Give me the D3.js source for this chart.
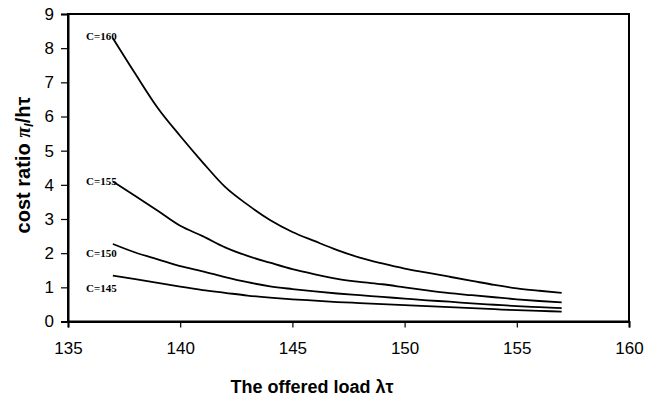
<!DOCTYPE html>
<html><head><meta charset="utf-8">
<script src="https://cdn.jsdelivr.net/npm/d3@7"></script>
<style>body{margin:0;background:#fff}svg{display:block}</style>
</head><body>
<script>
const loads = [137,138,139,140,141,142,143,144,145,146,147,148,149,150,151,152,153,154,155,156,157];
const c160 = [8.29,7.25,6.25,5.43,4.66,3.94,3.42,2.97,2.62,2.35,2.09,1.87,1.70,1.55,1.43,1.31,1.19,1.07,0.97,0.90,0.84];
const c155 = [4.1,3.67,3.24,2.8,2.5,2.17,1.92,1.72,1.53,1.38,1.25,1.16,1.09,1.0,0.91,0.83,0.77,0.71,0.65,0.60,0.56];
const c150 = [2.27,2.02,1.82,1.62,1.47,1.3,1.15,1.03,0.95,0.88,0.82,0.77,0.72,0.67,0.62,0.58,0.53,0.49,0.45,0.42,0.39];
const c145 = [1.34,1.24,1.13,1.02,0.92,0.84,0.76,0.70,0.65,0.61,0.57,0.54,0.51,0.48,0.45,0.42,0.39,0.36,0.33,0.31,0.29];
const seriesNames = ["C=160","C=155","C=150","C=145"];
const xTicks = [135,140,145,150,155,160];
const yTicks = [0,1,2,3,4,5,6,7,8,9];

const W = 658, H = 399;
const m = {l:68, r:629, t:14, b:321.5};
const svg = d3.select("body").append("svg").attr("width",W).attr("height",H);
const x = d3.scaleLinear().domain([135,160]).range([m.l,m.r]);
const y = d3.scaleLinear().domain([0,9]).range([m.b,m.t]);

svg.append("rect").attr("x",m.l).attr("y",m.t).attr("width",m.r-m.l).attr("height",m.b-m.t)
  .attr("fill","none").attr("stroke","#000").attr("stroke-width",2);

const xa = svg.append("g").attr("transform",`translate(0,${m.b})`)
  .call(d3.axisBottom(x).tickValues(xTicks).tickSize(6).tickPadding(14).tickFormat(d3.format("d")));
const ya = svg.append("g").attr("transform",`translate(${m.l},0)`)
  .call(d3.axisLeft(y).tickValues(yTicks).tickSize(7).tickPadding(7).tickFormat(d3.format("d")));
[xa,ya].forEach(a=>{
  a.select(".domain").attr("stroke","#000").attr("stroke-width",2);
  a.selectAll(".tick line").attr("stroke","#000").attr("stroke-width",1.2);
  a.selectAll("text").attr("font-family","Liberation Sans, Arial, sans-serif").attr("font-size",17).attr("fill","#000");
});

const allSeries = [c160,c155,c150,c145];
const line = d3.line().curve(d3.curveMonotoneX).x((d,i)=>x(loads[i])).y(d=>y(d));
allSeries.forEach(s=>{
  svg.append("path").datum(s).attr("d",line).attr("fill","none").attr("stroke","#000").attr("stroke-width",1.8);
});

const labelY = [8.35, 4.1, 2.0, 0.97];
seriesNames.forEach((n,i)=>{
  svg.append("text").attr("x",86).attr("y",y(labelY[i])).attr("dy","0.35em")
    .attr("font-family","Liberation Serif, Times New Roman, serif").attr("font-weight","bold")
    .attr("font-size",11).text(n);
});

const xt = svg.append("text").attr("x",312).attr("y",393).attr("text-anchor","middle")
  .attr("font-family","Liberation Sans, Arial, sans-serif").attr("font-weight","bold").attr("font-size",18);
xt.text("The offered load λτ");

const yt = svg.append("text").attr("transform","translate(30,165) rotate(-90)").attr("text-anchor","middle")
  .attr("font-family","Liberation Sans, Arial, sans-serif").attr("font-weight","bold").attr("font-size",20);
yt.append("tspan").text("cost ratio ");
yt.append("tspan").attr("font-family","Liberation Serif, serif").attr("font-style","italic").text("π");
yt.append("tspan").attr("font-style","italic").attr("font-size",13).attr("dy",3).text("l");
yt.append("tspan").attr("dy",-3).text("/hτ");
</script>
</body></html>
